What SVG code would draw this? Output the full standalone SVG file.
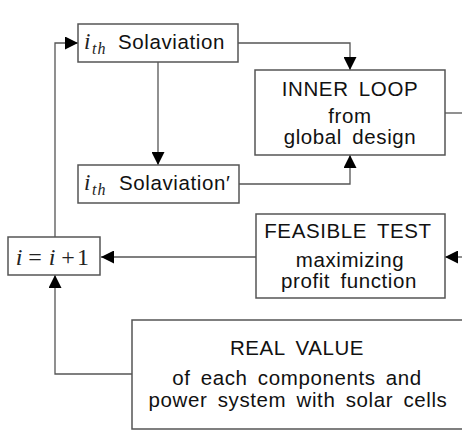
<svg xmlns="http://www.w3.org/2000/svg" width="462" height="431" viewBox="0 0 462 431">
  <style>
    .box { fill: #ffffff; stroke: #555555; stroke-width: 1.5; }
    .wire { fill: none; stroke: #555555; stroke-width: 1.3; }
    .lbl { font-family: "Liberation Sans", Arial, sans-serif; font-size: 20.5px; fill: #111111; letter-spacing: 0.6px; word-spacing: 4px; }
    .mid { text-anchor: middle; }
    .math { font-family: "Liberation Serif", "Times New Roman", serif; font-style: italic; fill: #222222; }
    .mathup { font-family: "Liberation Serif", "Times New Roman", serif; fill: #222222; }
  </style>
  <defs>
    <marker id="head" markerUnits="userSpaceOnUse" markerWidth="14" markerHeight="13" refX="13" refY="6.5" orient="auto">
      <path d="M0,0 L13,6.5 L0,13 Z" fill="#000000"/>
    </marker>
  </defs>

  <rect width="462" height="431" fill="#ffffff"/>

  <!-- connectors -->
  <g id="connectors">
    <path class="wire" d="M238,43 H350 V70" marker-end="url(#head)"/>
    <path class="wire" d="M239,184 H350 V155" marker-end="url(#head)"/>
    <path class="wire" d="M158,62 V165" marker-end="url(#head)"/>
    <path class="wire" d="M55,237 V43 H78" marker-end="url(#head)"/>
    <path class="wire" d="M256,257 H101" marker-end="url(#head)"/>
    <path class="wire" d="M132,374 H55 V275" marker-end="url(#head)"/>
    <path class="wire" d="M445,113 H462"/>
    <path class="wire" d="M462,257 H445" marker-end="url(#head)"/>
  </g>

  <!-- i-th Solaviation -->
  <g id="sol">
    <rect class="box" x="78" y="24" width="160" height="38"/>
    <text class="math" x="84" y="49" font-size="23">i</text>
    <text class="math" x="92" y="54" font-size="16" letter-spacing="1">th</text>
    <text class="lbl" x="118" y="49">Solaviation</text>
  </g>

  <!-- i-th Solaviation' -->
  <g id="solprime">
    <rect class="box" x="78" y="165" width="161" height="38"/>
    <text class="math" x="84" y="190" font-size="23">i</text>
    <text class="math" x="92" y="195" font-size="16" letter-spacing="1">th</text>
    <text class="lbl" x="119" y="190">Solaviation′</text>
  </g>

  <!-- inner loop -->
  <g id="inner">
    <rect class="box" x="255" y="70" width="190" height="85"/>
    <text class="lbl mid" x="350" y="96">INNER LOOP</text>
    <text class="lbl mid" x="350" y="123">from</text>
    <text class="lbl mid" x="350" y="144">global design</text>
  </g>

  <!-- feasible test -->
  <g id="feasible">
    <rect class="box" x="256" y="214" width="189" height="84"/>
    <text class="lbl mid" x="348" y="238">FEASIBLE TEST</text>
    <text class="lbl mid" x="350" y="267">maximizing</text>
    <text class="lbl mid" x="349" y="288">profit function</text>
  </g>

  <!-- counter increment -->
  <g id="incr">
    <rect class="box" x="8" y="237" width="92" height="38"/>
    <text class="math mid" x="19" y="265" font-size="24">i</text>
    <text class="mathup mid" x="35" y="265" font-size="24">=</text>
    <text class="math mid" x="52" y="265" font-size="24">i</text>
    <text class="mathup mid" x="68" y="265" font-size="24">+</text>
    <text class="mathup mid" x="83" y="265" font-size="24">1</text>
  </g>

  <!-- real value -->
  <g id="real">
    <rect class="box" x="132" y="320" width="331" height="109"/>
    <text class="lbl mid" x="297" y="355">REAL VALUE</text>
    <text class="lbl mid" x="297" y="385">of each components and</text>
    <text class="lbl mid" x="298" y="407">power system with solar cells</text>
  </g>
</svg>
